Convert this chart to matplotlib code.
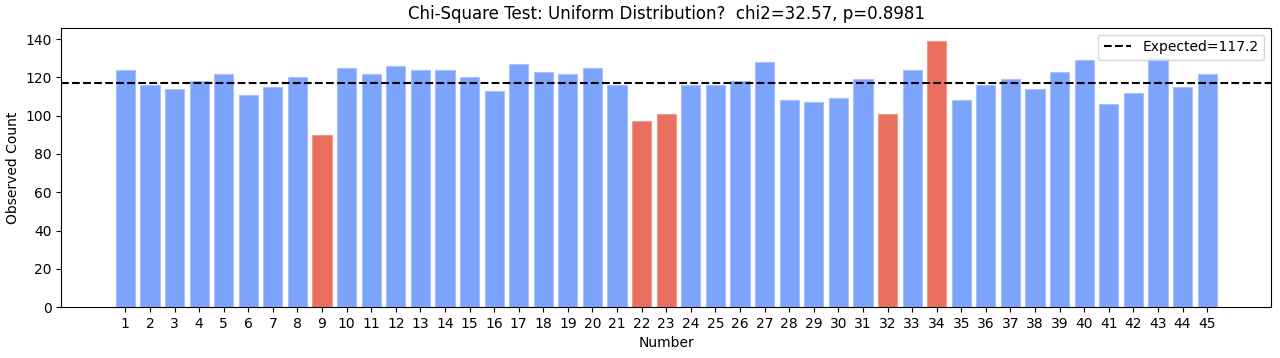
import matplotlib
matplotlib.use("Agg")
import matplotlib.pyplot as plt

numbers = list(range(1, 46))
counts = [124, 116, 114, 118, 122, 111, 115, 120, 90, 125,
          122, 126, 124, 124, 120, 113, 127, 123, 122, 125,
          116, 97, 101, 116, 116, 118, 128, 108, 107, 109,
          119, 101, 124, 139, 108, 116, 119, 114, 123, 129,
          106, 112, 130, 115, 122]
highlighted = [9, 22, 23, 32, 34]
expected = 117.2
title = "Chi-Square Test: Uniform Distribution?  chi2=32.57, p=0.8981"

colors = ['#e9705f' if n in highlighted else '#7ca4fb' for n in numbers]
edges = ['#f09a8e' if n in highlighted else '#a6c1fb' for n in numbers]

fig, ax = plt.subplots(figsize=(12.8, 3.58), dpi=100)
ax.bar(numbers, counts, color=colors, edgecolor=edges, linewidth=0.8, width=0.78)
ax.axhline(expected, color='black', linestyle='--', linewidth=1.5, label=f"Expected={expected}")

ax.set_xticks(numbers)
ax.set_xlim(-1.6, 47.6)
ax.set_ylim(0, 146)
ax.set_title(title)
ax.set_xlabel("Number")
ax.set_ylabel("Observed Count")
ax.legend(loc='upper right')

fig.subplots_adjust(left=0.048, right=0.993, top=0.923, bottom=0.142)
fig.savefig("out.png", dpi=100)
